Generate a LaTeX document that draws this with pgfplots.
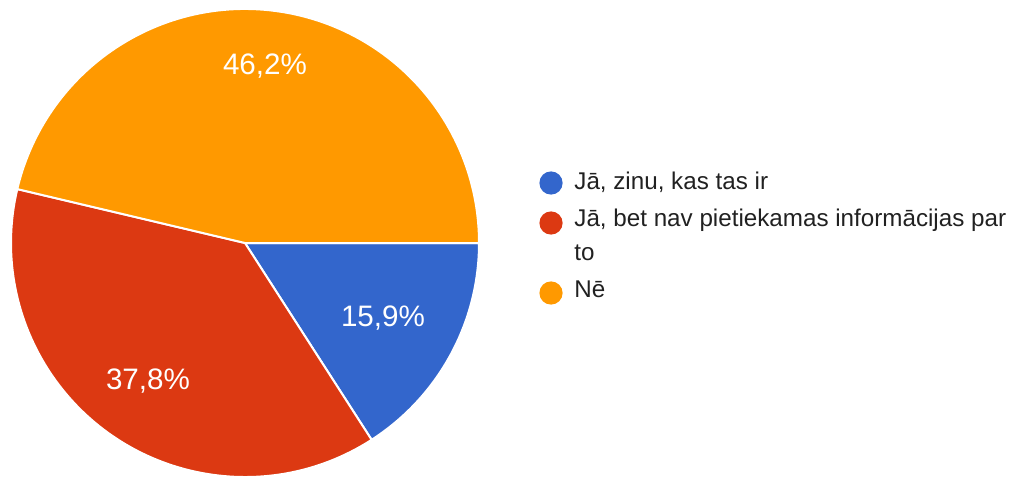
\documentclass[border=0pt]{standalone}
\usepackage{pgfplots}
\pgfplotsset{compat=1.18}
\usepackage{fontspec}
\setmainfont{Liberation Sans}
\definecolor{cblue}{HTML}{3366CC}
\definecolor{cred}{HTML}{DC3912}
\definecolor{corange}{HTML}{FF9900}
\definecolor{ctext}{HTML}{212121}
\begin{document}
\begin{tikzpicture}
% data (percent)
\def\vA{15.9}
\def\vB{37.8}
\def\vC{46.2}
\pgfmathsetmacro{\aA}{0}
\pgfmathsetmacro{\aB}{-\vA*3.6}
\pgfmathsetmacro{\aC}{\aB-\vB*3.6}
\pgfmathsetmacro{\aD}{-360}
\begin{axis}[scale only axis, width=508pt, height=238.5pt,
  xmin=0, xmax=1016, ymin=0, ymax=477, hide axis, clip=false]
\coordinate (bl) at (axis cs:0,0);
\coordinate (tr) at (axis cs:1016,477);
\fill[cblue, draw=white, line width=1pt] (axis cs:245,234) -- ++(\aA:117pt) arc[start angle=\aA, end angle=\aB, radius=117pt] -- cycle;
\fill[cred, draw=white, line width=1pt] (axis cs:245,234) -- ++(\aB:117pt) arc[start angle=\aB, end angle=\aC, radius=117pt] -- cycle;
\fill[corange, draw=white, line width=1pt] (axis cs:245,234) -- ++(\aC:117pt) arc[start angle=\aC, end angle=\aD, radius=117pt] -- cycle;
\node[white, font=\fontsize{14.8}{17}\selectfont] at (axis cs:265,411) {46,2\%};
\node[white, font=\fontsize{14.8}{17}\selectfont] at (axis cs:383,159) {15,9\%};
\node[white, font=\fontsize{14.8}{17}\selectfont] at (axis cs:148,96) {37,8\%};
% legend
\fill[cblue] (axis cs:551,294) circle[radius=5.8pt];
\fill[cred] (axis cs:551,254) circle[radius=5.8pt];
\fill[corange] (axis cs:551,184) circle[radius=5.8pt];
\node[ctext, anchor=base west, inner sep=0pt, font=\fontsize{12.1}{14}\selectfont] at (axis cs:574,287) {Jā, zinu, kas tas ir};
\node[ctext, anchor=base west, inner sep=0pt, font=\fontsize{12.1}{14}\selectfont] at (axis cs:574,250) {Jā, bet nav pietiekamas informācijas par};
\node[ctext, anchor=base west, inner sep=0pt, font=\fontsize{12.1}{14}\selectfont] at (axis cs:574,217) {to};
\node[ctext, anchor=base west, inner sep=0pt, font=\fontsize{12.1}{14}\selectfont] at (axis cs:574,180) {Nē};
\end{axis}
\pgfresetboundingbox
\useasboundingbox (bl) rectangle (tr);
\end{tikzpicture}
\end{document}
